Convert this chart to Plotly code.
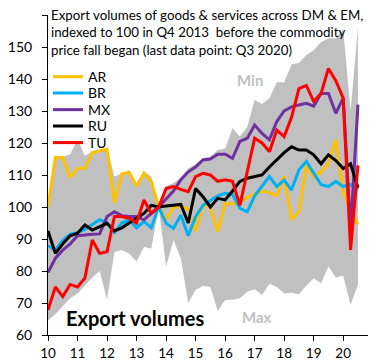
import plotly.graph_objects as go

quarters = [2010 + i / 4 for i in range(43)]
year_ticks = list(range(2010, 2021))
year_labels = [str(y - 2000) for y in year_ticks]

AR = [100, 115.5, 115.4, 109.2, 112, 112.2, 117, 117.6, 118, 101.3, 110.3, 110.8, 106.4, 110.6, 108,
      100, 96, 100, 100, 99.5, 92.5, 100.6, 99.8, 92.3, 101, 101, 101.5, 103, 104, 105, 104.5, 103.5,
      109.5, 96, 98.5, 113, 109.5, 111, 113.5, 121, 104.5, 99, 94.5]
BR = [88, 86.5, 89.5, 91.5, 92, 93, 94.5, 96, 95, 92, 95, 96, 93.5, 95.5, 93.5,
      100, 94.9, 93.3, 97.5, 91, 97, 100.5, 102, 103.5, 104.3, 104, 99.6, 98.5, 103.5, 106.5, 109.5, 106.4,
      108.4, 105.3, 111.6, 114.2, 110.5, 107, 106.4, 108, 106.4, 107, 105.3]
MX = [79.5, 84, 86.5, 88.5, 91, 91.3, 91.5, 91.6, 97, 98.5, 97.3, 97, 97, 96, 98,
      100, 102.5, 105, 108.5, 111, 112.5, 114.7, 115, 116.5, 116.5, 115.2, 120.5, 121.5, 125.6, 123, 121, 126.7,
      130, 131.3, 131.9, 132.4, 131.5, 135.5, 135.5, 129.3, 134, 93, 132]
RU = [92.5, 85.5, 88.5, 91, 91.8, 94.4, 92.8, 93.8, 94.9, 92.5, 93.5, 95, 96.5, 98, 100.5,
      100, 100.3, 100.6, 100.8, 95, 105.8, 103.2, 100, 102.7, 102.2, 105, 108, 109, 109.5, 110, 112.5, 114.7,
      117, 118.8, 117.8, 117.8, 116.3, 113.5, 116.3, 114.5, 112, 113.5, 106]
TU = [67.8, 75, 72, 75.8, 75, 77.8, 89.7, 85.5, 86, 97, 97, 96.5, 95, 102.2, 98,
      100, 105.8, 106.4, 105.5, 104.8, 109.5, 110.5, 110, 108, 108.5, 108, 100.5, 111, 121.5, 120, 117.3, 124,
      122, 128, 137, 138, 133, 135.5, 143.3, 139.5, 134, 86.6, 113]
band_upper = [100, 115.6, 115.6, 116.5, 121, 116, 117.3, 117.8, 118.3, 109.5, 110.5, 111.5, 107.5, 111, 109.5,
              100, 106.5, 107.5, 109.2, 112, 113.5, 115.3, 115.7, 117.8, 118.3, 124.6, 122, 125, 133.4, 132.2, 134, 139,
              139, 144.5, 145, 147.5, 149, 151.5, 152.7, 152.7, 155.5, 130, 156]
band_lower = [64.5, 66.5, 69, 71.5, 73, 75.5, 78, 80, 71, 86, 86.5, 85.5, 83, 87.5, 87,
              100, 81.4, 89.7, 84, 70, 74.1, 75.4, 75, 67.5, 70.9, 71, 71.5, 73.5, 74.3, 72.5, 76, 75,
              73, 73.2, 72.7, 75.4, 77.7, 76.2, 81.4, 78, 78.5, 69.4, 75.8]

series = [("AR", AR, "#FFC000"), ("BR", BR, "#00B0F0"), ("MX", MX, "#7030A0"),
          ("RU", RU, "#000000"), ("TU", TU, "#FF0000")]

FONT = "Lato"
BAND = "#C0C0C0"
legend_ids = ["legend", "legend2", "legend3", "legend4", "legend5"]
legend_y = [0.806, 0.755, 0.703, 0.652, 0.600]

fig = go.Figure()
fig.add_trace(go.Scatter(x=quarters, y=band_lower, mode="lines", line=dict(width=0, color=BAND),
                         showlegend=False, hoverinfo="skip"))
fig.add_trace(go.Scatter(x=quarters, y=band_upper, mode="lines", line=dict(width=0, color=BAND),
                         fill="tonexty", fillcolor=BAND, showlegend=False, hoverinfo="skip"))
for (name, vals, col), lid in zip(series, legend_ids):
    fig.add_trace(go.Scatter(x=quarters, y=vals, mode="lines", name=name, legend=lid,
                             line=dict(color=col, width=3)))

legend_common = dict(x=0.0, xanchor="left", yanchor="middle", bgcolor="rgba(0,0,0,0)",
                     font=dict(family=FONT, size=14, color="black"))
legends = {lid: dict(legend_common, y=ly) for lid, ly in zip(legend_ids, legend_y)}

fig.update_layout(
    width=375, height=352,
    margin=dict(l=40, r=15, t=7, b=25, autoexpand=False),
    paper_bgcolor="white", plot_bgcolor="white",
    font=dict(family=FONT, size=14, color="black"),
    showlegend=True,
    **legends,
    xaxis=dict(range=[2010, 2020.84], tickmode="array", tickvals=year_ticks, ticktext=year_labels,
               showgrid=False, zeroline=False, showline=True, linecolor="black", linewidth=1,
               ticks="outside", ticklen=5, tickcolor="black", tickfont=dict(size=13.5),
               ticklabelstandoff=1, automargin=False),
    yaxis=dict(range=[60, 160], dtick=10, showgrid=False, zeroline=False, showline=True,
               linecolor="black", linewidth=1, ticks="outside", ticklen=5, tickcolor="black",
               tickfont=dict(size=14), ticklabelstandoff=7, automargin=False),
    annotations=[
        dict(xref="paper", yref="paper", x=0, y=1.0, xanchor="left", yanchor="top", xshift=1, yshift=10,
             align="left", showarrow=False,
             text="Export volumes of goods &amp; services across DM &amp; EM,<br>indexed to 100 in Q4 2013  before the commodity<br>price fall began (last data point: Q3 2020)",
             font=dict(family=FONT, size=13.3, color="black")),
        dict(x=2016.83, y=139.7, text="<b>Min</b>", showarrow=False,
             font=dict(family=FONT, size=15, color=BAND)),
        dict(x=2017.09, y=65.6, text="<b>Max</b>", showarrow=False,
             font=dict(family=FONT, size=15, color=BAND)),
        dict(x=2010.55, y=65.3, xanchor="left", text="<b>Export volumes</b>", showarrow=False,
             font=dict(family=FONT, size=20, color="black")),
    ],
)

fig.write_html("out.html")
